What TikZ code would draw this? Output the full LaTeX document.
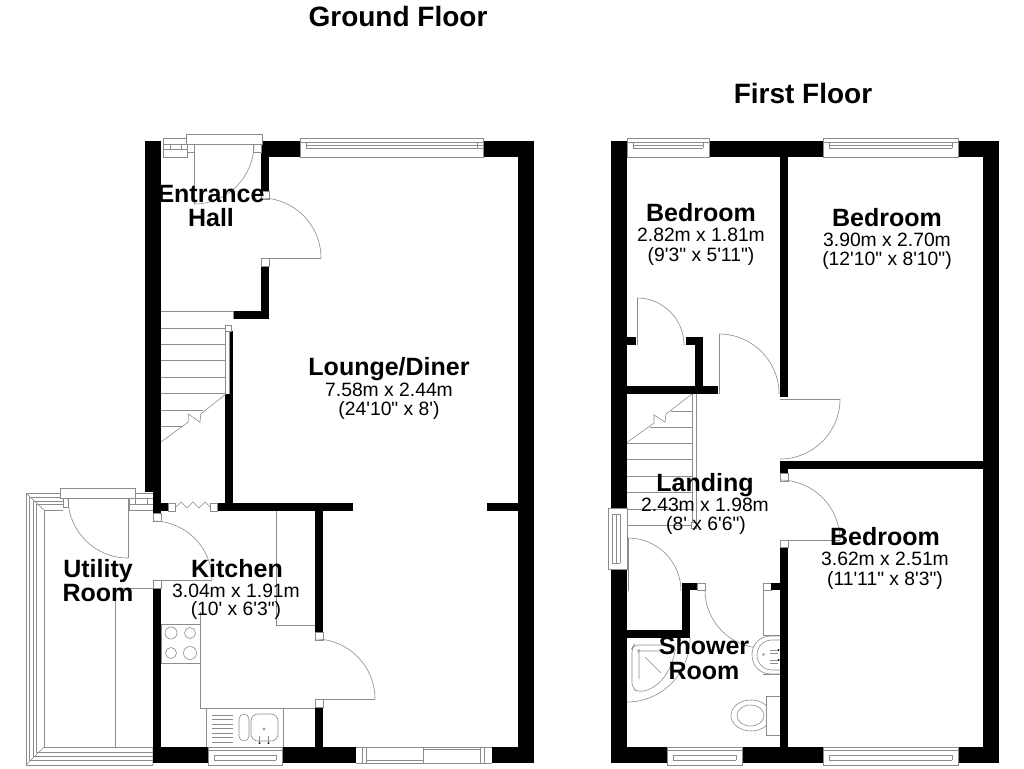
\documentclass[tikz,border=0pt]{standalone}
\usepackage{fontspec}
\setmainfont{Liberation Sans}[Ligatures=TeXOff]
\usetikzlibrary{calc}
\newcommand{\qarc}[3]{(#1) .. controls ($(#1)!0.5523!(#2)$) and ($(#3)!0.5523!(#2)$) .. (#3)}
\tikzset{
  wall/.style={fill=black,draw=none},
  ln/.style={draw=black!45,line width=0.6pt},
  sq/.style={draw=black!45,line width=0.6pt,fill=white},
  rname/.style={inner sep=0pt,anchor=base,font=\bfseries\fontsize{25}{27}\selectfont},
  rdim/.style={inner sep=0pt,anchor=base,font=\fontsize{19.3}{22}\selectfont},
  ttl/.style={inner sep=0pt,anchor=base,font=\bfseries\fontsize{28}{31}\selectfont}
}
\begin{document}
\begin{tikzpicture}[x=1pt,y=-1pt]
\useasboundingbox (0,0) rectangle (1024,768);
\fill[white] (0,0) rectangle (1024,768);

% ---------- GROUND FLOOR : utility frame ----------
\foreach \xa/\ya/\yb in {26/493/765,29/497/760,33/501/756,36/504/752,44/510/747}
  \draw[ln] (63,\ya) -- (\xa,\ya) -- (\xa,\yb) -- (153,\yb);
\draw[ln] (26,493) -- (44,510) (26,765) -- (44,747) (153,765) -- (153,747);
\draw[sq] (129,493) rectangle (153,510);
\draw[ln] (129,498) -- (153,498) (129,504) -- (153,504) (135,498) -- (135,504) (147,498) -- (147,504);
\draw[sq] (60,488) rectangle (135,498);
\draw[sq] (63,498) rectangle (68,507);
\draw[ln] (128,498) -- (128,558);
\draw[ln] \qarc{68,498}{68,558}{128,558};
\draw[ln] (115,588) -- (153,588) (115,588) -- (115,747);

% ---------- GROUND FLOOR : kitchen fittings ----------
\draw[ln] (276,511) -- (276,625) -- (315,625);
\draw[ln] (200,612) -- (200,708) -- (315,708);
\draw[ln] (161,624) rectangle (200,663);
\foreach \cx/\cy/\r in {171/633/6,190/633/5.5,171/653/5.5,190/653/6.5}
  \draw[ln] (\cx,\cy) circle (\r);
\draw[ln] (206,708) -- (206,747) (283,708) -- (283,747);
\foreach \yy in {715,719.5,724,728.5,733,737.5,742}
  \draw[ln] (212,\yy) -- (233,\yy);
\draw[ln,rounded corners=5pt] (239,714) rectangle (249,741);
\draw[ln,rounded corners=7pt] (251,714) rectangle (278,741);
\draw[ln] (264,729) circle (1.2);
\draw[ln,line width=1pt] (259.5,736) -- (259.5,742) (268.5,736) -- (268.5,742);
\fill[black] (259.5,743) circle (1) (268.5,743) circle (1);

% ---------- GROUND FLOOR : walls ----------
\fill[wall] (145,141) rectangle (161,492);
\fill[wall] (153,492) rectangle (161,513);
\fill[wall] (161,503) rectangle (168,511);
\fill[wall] (217,503) rectangle (353,511);
\fill[wall] (225,394) rectangle (233,503);
\fill[wall] (229,331) rectangle (233,394);
\fill[wall] (233,311) rectangle (269,319);
\fill[wall] (261,266) rectangle (269,319);
\fill[wall] (261,141) rectangle (300,157);
\fill[wall] (261,157) rectangle (269,191);
\fill[wall] (483,141) rectangle (534,157);
\fill[wall] (518,141) rectangle (534,763);
\fill[wall] (487,503) rectangle (518,511);
\fill[wall] (315,511) rectangle (323,632);
\fill[wall] (315,707) rectangle (323,747);
\fill[wall] (153,588) rectangle (161,763);
\fill[wall] (153,747) rectangle (208,763);
\fill[wall] (282,747) rectangle (356,763);
\fill[wall] (492,747) rectangle (534,763);

% ---------- GROUND FLOOR : openings ----------
\draw[sq] (163,138) rectangle (187,157);
\draw[ln] (170,144) -- (170,149) (181,144) -- (181,149) (163,144) -- (187,144) (163,149) -- (187,149);
\draw[sq] (186,134) rectangle (262,144);
\draw[sq] (187,144) rectangle (194,152);
\draw[sq] (253,144) rectangle (261,152);
\draw[ln] (194,144) -- (194,204);
\draw[ln] \qarc{254,144}{254,204}{194,204};
\draw[sq] (300,138) rectangle (483,157);
\draw[ln] (300,142) -- (483,142) (306,145) -- (483,145) (306,148) -- (483,148) (306,142) -- (306,148) (477,142) -- (477,148);
\draw[sq] (261,191) rectangle (269,199);
\draw[sq] (261,258) rectangle (269,266);
\draw[ln] (269,258) -- (321,258);
\draw[ln] \qarc{261,198}{321,198}{321,258};
\draw[sq] (168,503) rectangle (175,511);
\draw[sq] (210,503) rectangle (217,511);
\draw[ln] (175,508) -- (181,502) -- (187,508) -- (193,502) -- (199,508) -- (205,502) -- (210,507);
\draw[sq] (153,513) rectangle (161,521);
\draw[sq] (153,580) rectangle (161,588);
\draw[ln] (161,580) -- (212,580);
\draw[ln] \qarc{153,521}{212,521}{212,580};
\draw[sq] (315,632) rectangle (323,640);
\draw[sq] (315,699) rectangle (323,707);
\draw[ln] (323,699) -- (375,699);
\draw[ln] \qarc{315,639}{375,639}{375,699};
\draw[sq] (208,747) rectangle (282,765);
\draw[ln] (208,750) -- (282,750) (214,755) -- (276,755) (214,760) -- (276,760) (214,755) -- (214,760) (276,755) -- (276,760);
\draw[ln] (356,747) -- (492,747) (356,763) -- (492,763) (362,747) -- (362,763) (366,747) -- (366,763)
      (423,747) -- (423,763) (480,747) -- (480,763) (484,747) -- (484,763) (366,760) -- (423,760) (423,749) -- (480,749);

% ---------- GROUND FLOOR : stairs ----------
\foreach \yy in {328,344,360,377,393}
  \draw[ln] (161,\yy) -- (225,\yy);
\draw[ln] (161,311) -- (233,311) (233,311) -- (233,319);
\draw[ln] (161,410) -- (203,410) (161,426) -- (183,426);
\draw[ln] (225,331) -- (225,394) (229,331) -- (229,394);
\draw[sq] (225,325) rectangle (231,331);
\draw[ln] (161,442) -- (188.3,422) -- (188.3,414) -- (200,422.3) -- (200.7,414) -- (226,394);

% ---------- FIRST FLOOR : fittings ----------
\draw[ln] (627,509) -- (692,509) (627,525) -- (692,525);
\foreach \yy in {443,459,476,492}
  \draw[ln] (627,\yy) -- (692,\yy);
\draw[ln] (650,427) -- (692,427) (671,411) -- (692,411);
\draw[ln] (626,443) -- (654,423) -- (654,415) -- (665,422) -- (666,414) -- (692,394);
\draw[ln] (692,394) -- (692,525) (696,394) -- (696,525);
\draw[sq] (691,522) rectangle (696,528);

% shower
\draw[ln] \qarc{627,702}{690,702}{690,638};
\draw[ln,rounded corners=5pt] (634,645) -- (676,645) .. controls (672,670) and (660,688) .. (638,692) -- (632,688) -- (632,648) -- cycle;
\draw[ln] (639,651) circle (1.4) (641,651) -- (660,651) (639,653) -- (639,679) (645,657) -- (661,673);

% toilet
\draw[ln] (751,715.5) ellipse (20 and 15.5);
\draw[ln] (750.5,715.5) ellipse (13.5 and 10.5);
\draw[sq] (766,696) rectangle (780,735);

% shower-room door, basin
\draw[sq] (763,583) rectangle (771,590);
\draw[ln] (763,590) -- (763,636);
\draw[ln] \qarc{705,590}{705,648}{763,648};
\draw[ln] (763,635) -- (780,635) (763,674) -- (780,674);
\draw[sq] (780,636) -- (771,636) .. controls (760,636) and (752,644) .. (752,655) .. controls (752,666) and (760,674) .. (771,674) -- (780,674);
\draw[ln] (780,640) -- (772,640) .. controls (764,640) and (757,646) .. (757,655) .. controls (757,664) and (764,670) .. (772,670) -- (780,670);
\draw[ln] (763.5,654.5) circle (1);
\draw[ln] (770,650) -- (778,650) (770,653) -- (778,653) (770,660) -- (778,660) (770,663) -- (778,663);
\fill[black] (778.5,650) circle (1) (778.5,660) circle (1);

% ---------- FIRST FLOOR : walls ----------
\fill[wall] (611,141) rectangle (627,763);
\fill[wall] (709,141) rectangle (823,157);
\fill[wall] (958,141) rectangle (999,157);
\fill[wall] (983,157) rectangle (999,763);
\fill[wall] (780,157) rectangle (788,397);
\fill[wall] (780,461) rectangle (983,469);
\fill[wall] (780,469) rectangle (788,473);
\fill[wall] (780,547) rectangle (788,763);
\fill[wall] (627,337) rectangle (636,345);
\fill[wall] (686,337) rectangle (703,345);
\fill[wall] (695,345) rectangle (703,386);
\fill[wall] (627,386) rectangle (718,394);
\fill[wall] (627,630) rectangle (690,638);
\fill[wall] (682,583) rectangle (697,590);
\fill[wall] (682,590) rectangle (690,630);
\fill[wall] (771,583) rectangle (781,590);
\fill[wall] (611,747) rectangle (667,763);
\fill[wall] (742,747) rectangle (823,763);
\fill[wall] (958,747) rectangle (999,763);

% ---------- FIRST FLOOR : openings ----------
\draw[sq] (697,583) rectangle (705,590);
\draw[sq] (780,473) rectangle (788,481);
\draw[sq] (780,540) rectangle (788,547);
\draw[ln] (788,540) -- (840,540);
\draw[ln] \qarc{780,480}{840,480}{840,540};
\draw[ln] (637,298) -- (637,345);
\draw[ln] \qarc{637,298}{684,298}{684,345};
\draw[ln] (719,334) -- (719,394);
\draw[ln] \qarc{719,334}{779,334}{779,394};
\draw[ln] (780,399) -- (840,399);
\draw[ln] \qarc{840,399}{840,459}{780,459};
\draw[ln] (628,538) -- (628,591);
\draw[ln] \qarc{628,538}{681,538}{681,591};
% windows
\foreach \xa/\xb in {627/709,823/958}{
  \draw[sq] (\xa,138) rectangle (\xb,157);
  \draw[ln] (\xa,142) -- (\xb,142) (\xa+6,145) -- (\xb-6,145) (\xa+6,148) -- (\xb-6,148) (\xa+6,142) -- (\xa+6,148) (\xb-6,142) -- (\xb-6,148);
}
\foreach \xa/\xb in {667/742,823/958}{
  \draw[sq] (\xa,747) rectangle (\xb,765);
  \draw[ln] (\xa,750) -- (\xb,750) (\xa+6,755) -- (\xb-6,755) (\xa+6,760) -- (\xb-6,760) (\xa+6,755) -- (\xa+6,760) (\xb-6,755) -- (\xb-6,760);
}
\draw[sq] (608,508) rectangle (627,569);
\draw[ln] (612,514) -- (612,563) (616,514) -- (616,563) (620,514) -- (620,563) (612,514) -- (620,514) (612,563) -- (620,563);

% ---------- TEXT ----------
\node[ttl] (tGround) at (398,26.5) {Ground Floor};
\node[ttl] (tFirst) at (803,103) {First Floor};

\node[rname] (tEnt) at (211,202) {Entrance};
\node[rname] (tHall) at (211,226.5) {Hall};
\node[rname] (tLounge) at (389,375) {Lounge/Diner};
\node[rdim] (tLoungeA) at (389,396) {7.58m x 2.44m};
\node[rdim] (tLoungeB) at (389,415) {(24'10" x 8')};
\node[rname] (tKit) at (237,577) {Kitchen};
\node[rdim] (tKitA) at (236,597) {3.04m x 1.91m};
\node[rdim] (tKitB) at (236,615) {(10' x 6'3")};
\node[rname] (tUtil) at (98,577) {Utility};
\node[rname] (tRoom) at (98,601.5) {Room};

\node[rname] (tBedA) at (701,221) {Bedroom};
\node[rdim] (tBedAa) at (701,241) {2.82m x 1.81m};
\node[rdim] (tBedAb) at (701,261) {(9'3" x 5'11")};
\node[rname] (tBedB) at (887,226) {Bedroom};
\node[rdim] (tBedBa) at (887,246) {3.90m x 2.70m};
\node[rdim] (tBedBb) at (887,265) {(12'10" x 8'10")};
\node[rname] (tLand) at (705,491) {Landing};
\node[rdim] (tLandA) at (705,511.5) {2.43m x 1.98m};
\node[rdim] (tLandB) at (706,530) {(8' x 6'6")};
\node[rname] (tBedC) at (885,545) {Bedroom};
\node[rdim] (tBedCa) at (885,565) {3.62m x 2.51m};
\node[rdim] (tBedCb) at (885,585) {(11'11" x 8'3")};
\node[rname] (tSh) at (704,654) {Shower};
\node[rname] (tShR) at (704,679) {Room};
\end{tikzpicture}
\end{document}
